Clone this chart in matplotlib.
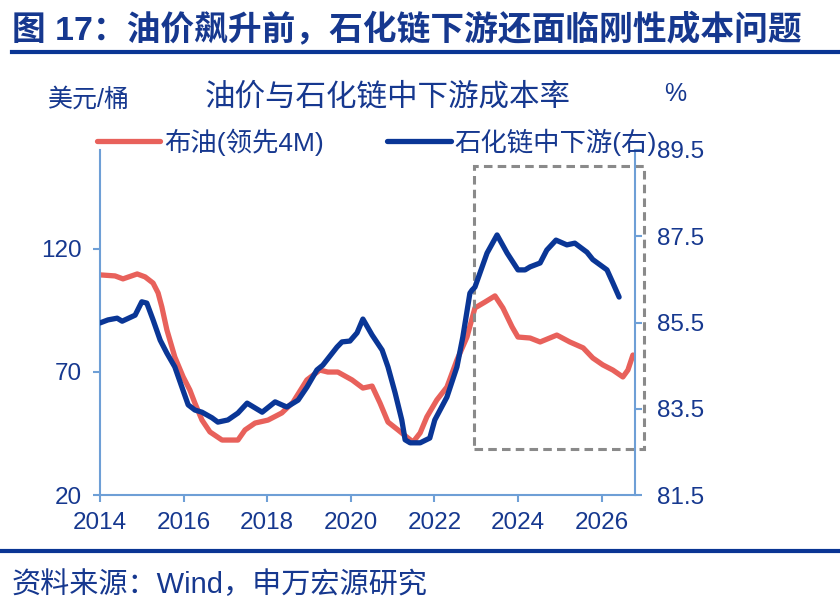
import matplotlib
matplotlib.use("Agg")
import matplotlib.pyplot as plt
from matplotlib.patches import Rectangle
from matplotlib.lines import Line2D

plt.rcParams['font.family'] = ['Liberation Sans', 'Noto Sans CJK SC', 'DejaVu Sans']

# 布油(领先4M), 美元/桶, left axis
brent_x = [2014.02, 2014.36, 2014.55, 2014.89, 2015.08, 2015.27, 2015.39, 2015.48, 2015.60, 2015.79,
           2015.99, 2016.15, 2016.27, 2016.44, 2016.63, 2016.92, 2017.30, 2017.47, 2017.71, 2018.02,
           2018.35, 2018.62, 2018.95, 2019.26, 2019.45, 2019.69, 2020.03, 2020.29, 2020.51, 2020.70,
           2020.89, 2021.13, 2021.37, 2021.49, 2021.66, 2021.82, 2022.06, 2022.30, 2022.54, 2022.78,
           2022.97, 2023.21, 2023.45, 2023.64, 2023.86, 2024.00, 2024.29, 2024.53, 2024.93, 2025.24,
           2025.56, 2025.79, 2026.03, 2026.27, 2026.51, 2026.63, 2026.75]
brent_y = [109.3, 108.9, 107.7, 109.7, 108.5, 106.0, 102.0, 96.3, 87.0, 76.0,
           67.9, 62.6, 57.3, 50.4, 45.6, 42.3, 42.3, 46.4, 49.2, 50.4,
           53.3, 57.7, 66.7, 70.7, 69.9, 69.9, 66.7, 63.4, 64.2, 57.3,
           49.6, 46.4, 43.1, 41.5, 45.2, 51.7, 58.6, 63.8, 74.8, 84.1,
           95.9, 98.3, 100.8, 95.9, 88.2, 84.1, 83.7, 82.1, 84.9, 82.1,
           79.7, 75.6, 72.8, 70.7, 67.9, 70.7, 76.8]

# 石化链中下游成本率 (%), right axis
chain_x = [2014.00, 2014.19, 2014.41, 2014.53, 2014.84, 2015.00, 2015.12, 2015.27, 2015.44, 2015.60,
           2015.79, 2015.96, 2016.11, 2016.27, 2016.44, 2016.68, 2016.82, 2017.06, 2017.30, 2017.52,
           2017.88, 2018.19, 2018.35, 2018.47, 2018.74, 2018.95, 2019.19, 2019.33, 2019.67, 2019.79,
           2019.98, 2020.15, 2020.29, 2020.51, 2020.75, 2020.89, 2021.06, 2021.22, 2021.30, 2021.42,
           2021.66, 2021.89, 2022.01, 2022.30, 2022.54, 2022.68, 2022.85, 2022.90, 2022.97, 2023.26,
           2023.50, 2023.74, 2024.00, 2024.17, 2024.29, 2024.53, 2024.69, 2024.91, 2025.17, 2025.36,
           2025.65, 2025.79, 2026.13, 2026.27, 2026.42]
chain_y = [85.49, 85.56, 85.60, 85.53, 85.67, 85.98, 85.95, 85.56, 85.09, 84.79,
           84.47, 84.00, 83.59, 83.47, 83.42, 83.29, 83.19, 83.24, 83.40, 83.63,
           83.42, 83.66, 83.59, 83.54, 83.70, 84.00, 84.40, 84.51, 84.93, 85.05,
           85.07, 85.26, 85.58, 85.21, 84.86, 84.47, 83.87, 83.24, 82.78, 82.71,
           82.71, 82.82, 83.24, 83.77, 84.47, 85.16, 86.18, 86.25, 86.32, 87.11,
           87.53, 87.11, 86.72, 86.72, 86.79, 86.88, 87.18, 87.41, 87.30, 87.34,
           87.13, 86.96, 86.72, 86.42, 86.09]

year_ticks = [2014, 2016, 2018, 2020, 2022, 2024, 2026]
left_ticks = [20, 70, 120]
right_ticks = [81.5, 83.5, 85.5, 87.5, 89.5]

navy = '#16388f'
spine_c = '#6e9fd6'
red = '#e8615b'
blue = '#0a3696'

fig = plt.figure(figsize=(8.4, 6.03), dpi=100)
ax = fig.add_axes([100 / 840, 108 / 603, 535 / 840, 345 / 603])
ax2 = ax.twinx()

l1, = ax.plot(brent_x, brent_y, color=red, lw=3.8, solid_capstyle='round', solid_joinstyle='round')
l2, = ax2.plot(chain_x, chain_y, color=blue, lw=3.8, solid_capstyle='round', solid_joinstyle='round')

ax.set_xlim(2014, 2026.8)
ax.set_ylim(20, 160)
ax2.set_ylim(81.5, 89.5)
ax.set_xticks(year_ticks)
ax.set_yticks(left_ticks)
ax2.set_yticks(right_ticks)
ax2.set_yticklabels([f'{v:.1f}' for v in right_ticks])

for a in (ax, ax2):
    for s in a.spines.values():
        s.set_color(spine_c)
        s.set_linewidth(1.5)
    a.spines['top'].set_visible(False)
ax.spines['right'].set_visible(False)
ax2.spines['left'].set_visible(False)
ax2.spines['bottom'].set_visible(False)

ax.tick_params(axis='x', colors=spine_c, labelcolor=navy, labelsize=17.5, length=5, width=1.5, pad=7.5)
ax.tick_params(axis='y', colors=spine_c, labelcolor=navy, labelsize=17.5, length=5, width=1.5, pad=8)
ax2.tick_params(axis='y', colors=spine_c, labelcolor=navy, labelsize=17.5, length=5, width=1.5, pad=11)

# dashed box round the recent period
box = Rectangle((2022.95, 82.56), 2027.01 - 2022.95, 89.13 - 82.56, fill=False,
                edgecolor='#8a8a8a', lw=2.2, linestyle=(0, (2.8, 1.7)), clip_on=False, zorder=1)
ax2.add_patch(box)

fig.legend([l1, l2], ['布油(领先4M)', '石化链中下游(右)'], loc='center left',
           bbox_to_anchor=(97 / 840, 1 - 142 / 603), ncol=2, frameon=False,
           handlelength=2.4, handletextpad=0.15, columnspacing=2.4, borderpad=0,
           borderaxespad=0, prop={'size': 19}, labelcolor=navy)

fig.text(12 / 840, 1 - 30 / 603, '图 17：油价飙升前，石化链下游还面临刚性成本问题',
         fontsize=24.3, fontweight='bold', color=navy, va='center', ha='left')
fig.add_artist(Line2D([12 / 840, 1], [1 - 52 / 603] * 2, color='#0a3594', lw=3))
fig.text(388 / 840, 1 - 98 / 603, '油价与石化链中下游成本率', fontsize=22, color=navy,
         ha='center', va='center')
fig.text(48 / 840, 1 - 100 / 603, '美元/桶', fontsize=18, color=navy, ha='left', va='center')
fig.text(675 / 840, 1 - 94 / 603, '%', fontsize=18, color=navy, ha='center', va='center')
fig.add_artist(Line2D([0, 1], [1 - 551 / 603] * 2, color='#0a3594', lw=3))
fig.text(12 / 840, 1 - 585 / 603, '资料来源：Wind，申万宏源研究', fontsize=21, color=navy,
         ha='left', va='center')

fig.savefig('out.png', dpi=100)
